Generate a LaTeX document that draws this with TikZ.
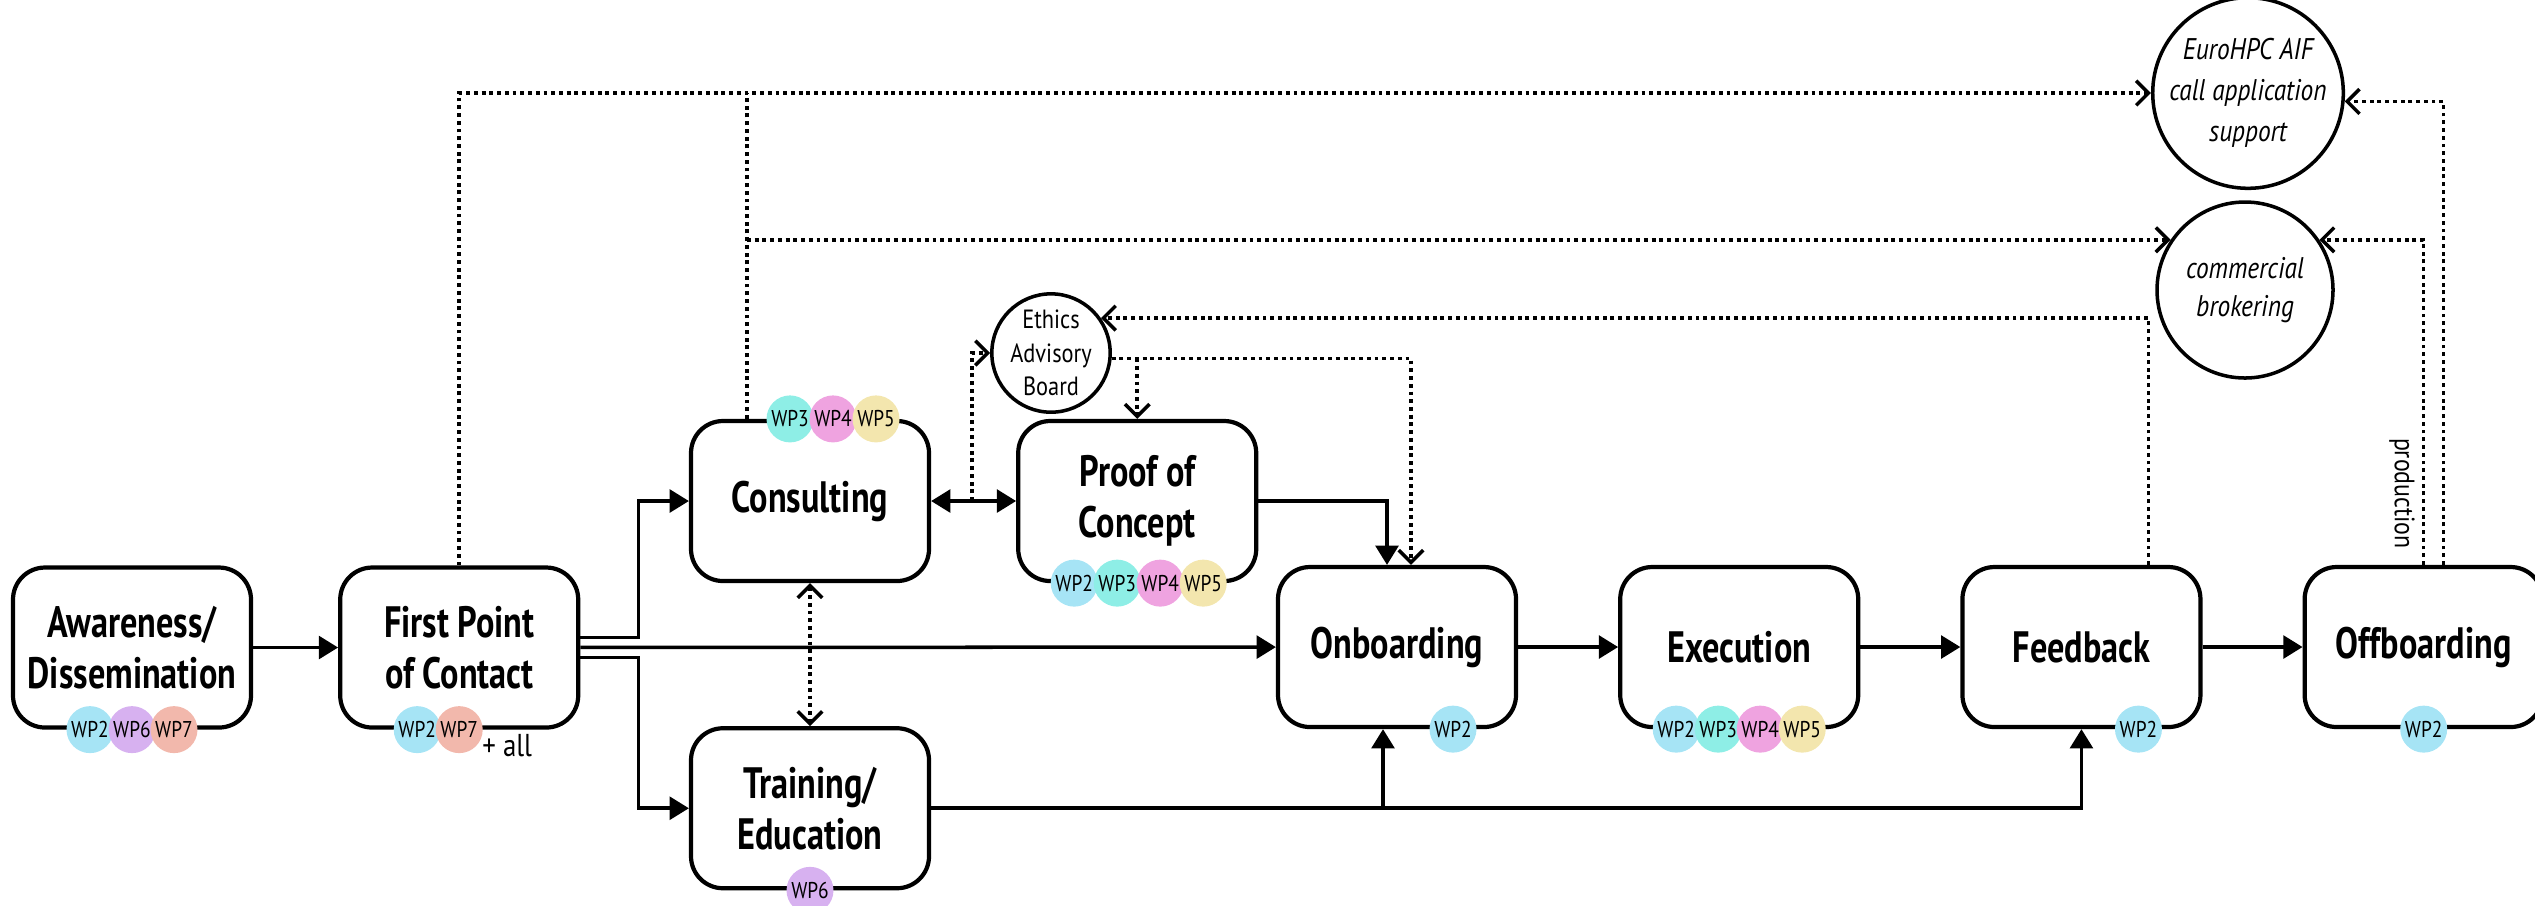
\documentclass[tikz,border=0pt]{standalone}
\usepackage{fontspec}
\setmainfont{PT Sans}[FakeStretch=0.85]
\newfontfamily\stagefont{PT Sans}[FakeStretch=0.78]
\usetikzlibrary{positioning,arrows.meta}

\definecolor{wp2}{HTML}{A6E4F5}
\definecolor{wp3}{HTML}{8EEEE6}
\definecolor{wp4}{HTML}{EFA3E0}
\definecolor{wp5}{HTML}{F3E6AE}
\definecolor{wp6}{HTML}{D7B1F0}
\definecolor{wp7}{HTML}{F2B8AC}

\tikzset{
	stage/.style={draw, line width=1.2pt, rounded corners=3.2mm, minimum width=2.38cm, minimum height=1.6cm, align=center, font=\stagefont\fontsize{12.5}{14.5}\selectfont\bfseries},
	wp/.style={circle, fill=#1, minimum size=4.7mm, inner sep=0pt, font=\fontsize{6.5}{7}\selectfont},
	side/.style={circle, draw, line width=1pt, align=center, inner sep=0pt},
	flow/.style={line width=1pt, -{Triangle[length=5.5pt, width=6.5pt]}},
	hint/.style={line width=1pt, dash pattern=on 1.1pt off 1.1pt, -{Straight Barb[length=3.5pt, width=7pt]}},
}

\begin{document}
\begin{tikzpicture}
	\useasboundingbox (0,0) rectangle (25.35,-9.05);

	\node[stage] (aware) at (1.32,-6.475) {Awareness/\\Dissemination};
	\node[stage, right=8.5mm of aware] (first) {First Point\\of Contact};
	\node[stage] (consult) at (8.10,-5.01) {Consulting};
	\node[stage, below=14.3mm of consult] (train) {Training/\\Education};
	\node[stage, right=8.5mm of consult] (poc) {Proof of\\Concept};
	\node[stage] (onboard) at (13.97,-6.47) {Onboarding};
	\node[stage, right=10mm of onboard] (exec) {Execution};
	\node[stage, right=10mm of exec] (feedback) {Feedback};
	\node[stage, right=10mm of feedback] (offboard) {Offboarding};

	\node[side, minimum size=10.6mm, font=\fontsize{7.5}{9.6}\selectfont] (ethics) at (10.51,-3.53) {Ethics\\Advisory\\Board};
	\node[side, minimum size=17.6mm, font=\fontsize{8.5}{11.6}\selectfont\itshape] (euro) at (22.48,-0.93) {EuroHPC AIF\\call application\\support};
	\node[side, minimum size=17.6mm, font=\fontsize{8.5}{11}\selectfont\itshape] (comm) at (22.45,-2.90) {commercial\\brokering};

	% main flow
	\draw[flow] (aware) -- (first);
	\draw[flow] ([yshift=1mm]first.east) -- ++(5.8mm,0) |- (consult);
	\draw[flow] (first) -- (onboard);
	\draw[flow] ([yshift=-1mm]first.east) -- ++(5.8mm,0) |- (train);
	\draw[line width=1pt, {Triangle[length=5.5pt, width=6.5pt]}-{Triangle[length=5.5pt, width=6.5pt]}] (consult) -- (poc);
	\draw[flow] (poc) -| ([xshift=-1mm]onboard.north);
	\draw[flow] (onboard) -- (exec);
	\draw[flow] (exec) -- (feedback);
	\draw[flow] (feedback) -- (offboard);
	\draw[flow] (train) -| (feedback);
	\draw[flow] ([xshift=-1.4mm]onboard.south |- train.east) -- ([xshift=-1.4mm]onboard.south);

	% dotted links
	\draw[hint, {Straight Barb[length=3.5pt, width=7pt]}-{Straight Barb[length=3.5pt, width=7pt]}] (consult) -- (train);
	\draw[hint] ([xshift=4.1mm]consult.east) |- (ethics.west);
	\draw[hint] (ethics.-5) -| ([xshift=1.4mm]onboard.north);
	\draw[hint] (poc.north |- ethics.-5) -- (poc.north);
	\draw[hint] ([xshift=6.7mm]feedback.north) |- (ethics.35);
	\draw[hint] (first.north) |- (euro.west);
	\draw[hint, -] ([xshift=-6.3mm]consult.north) -- ([xshift=-6.3mm]consult.north |- euro.west);
	\draw[hint] ([xshift=-6.3mm]consult.north |- comm.146) -- (comm.146);
	\draw[hint] ([xshift=2mm]offboard.north) |- (euro.-5);
	\draw[hint] (offboard.north) |- node[pos=0.11, rotate=-90, anchor=north, inner sep=2pt, font=\fontsize{8}{9}\selectfont] (prod) {production} (comm.34);

	% work packages
	\foreach \n/\dx in {2/-0.42, 6/0, 7/0.42}
		\node[wp=wp\n] (aware-wp\n) at ([xshift=\dx cm]aware.south) {WP\n};
	\foreach \n/\dx in {2/-0.42, 7/0}
		\node[wp=wp\n] (first-wp\n) at ([xshift=\dx cm]first.south) {WP\n};
	\node[font=\fontsize{9}{10}\selectfont] (plusall) at ([xshift=4.8mm, yshift=-1.6mm]first.south) {+ all};
	\foreach \n/\dx in {3/-0.2, 4/0.23, 5/0.66}
		\node[wp=wp\n] (consult-wp\n) at ([xshift=\dx cm]consult.north) {WP\n};
	\foreach \n/\dx in {2/-0.63, 3/-0.2, 4/0.23, 5/0.66}
		\node[wp=wp\n] (poc-wp\n) at ([xshift=\dx cm]poc.south) {WP\n};
	\node[wp=wp6] (train-wp6) at (train.south) {WP6};
	\node[wp=wp2] (onboard-wp2) at ([xshift=5.6mm]onboard.south) {WP2};
	\foreach \n/\dx in {2/-0.63, 3/-0.21, 4/0.21, 5/0.63}
		\node[wp=wp\n] (exec-wp\n) at ([xshift=\dx cm]exec.south) {WP\n};
	\node[wp=wp2] (feedback-wp2) at ([xshift=5.7mm]feedback.south) {WP2};
	\node[wp=wp2] (offboard-wp2) at (offboard.south) {WP2};
\end{tikzpicture}
\end{document}
